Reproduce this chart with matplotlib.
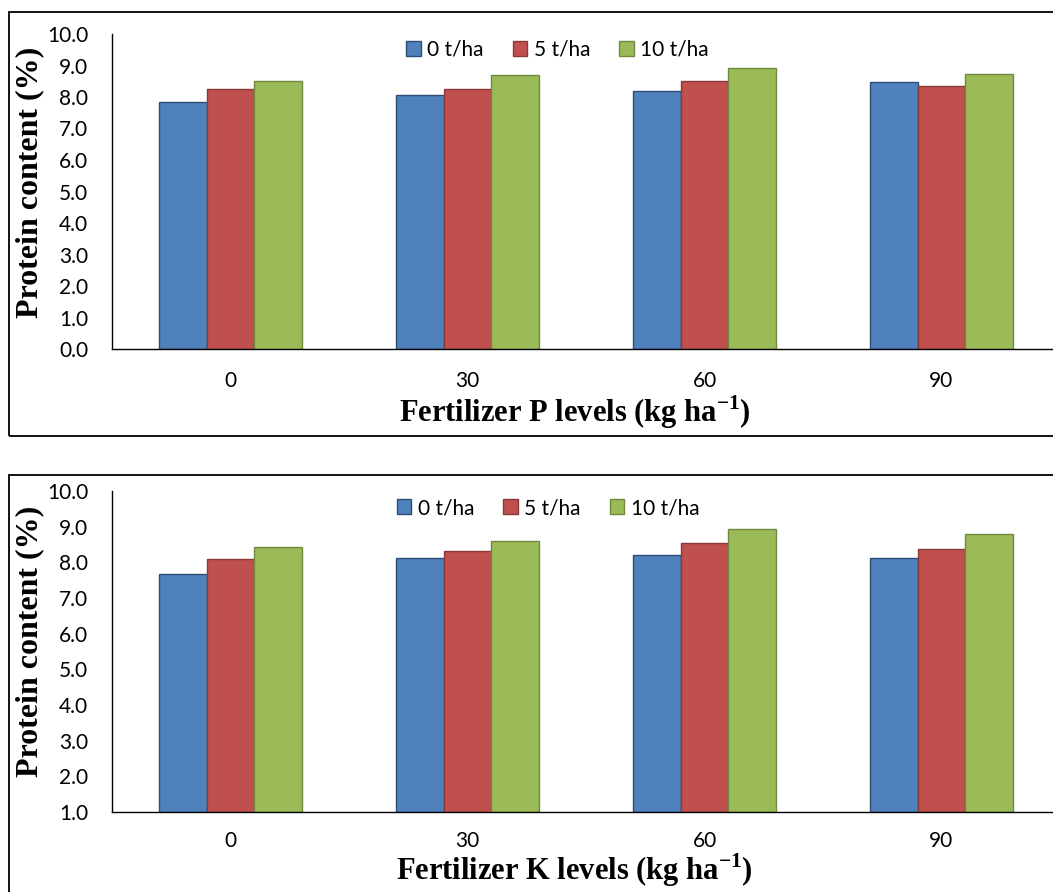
import matplotlib.pyplot as plt
import numpy as np
from matplotlib.patches import Rectangle

plt.rcParams['mathtext.fontset'] = 'custom'
plt.rcParams['mathtext.rm'] = 'Liberation Serif'
plt.rcParams['mathtext.bf'] = 'Liberation Serif:bold'

# data
levels = ['0', '30', '60', '90']
series = ['0 t/ha', '5 t/ha', '10 t/ha']
p_0t = [7.85, 8.06, 8.18, 8.49]
p_5t = [8.24, 8.24, 8.52, 8.36]
p_10t = [8.50, 8.70, 8.91, 8.74]
k_0t = [7.66, 8.13, 8.20, 8.13]
k_5t = [8.09, 8.31, 8.53, 8.38]
k_10t = [8.42, 8.61, 8.93, 8.79]

colors = ['#4F81BD', '#C0504D', '#9BBB59']
edges = ['#2C4D75', '#8C3836', '#71893F']

tick_font = ['Liberation Sans Narrow', 'Lato', 'DejaVu Sans']
label_font = ['Liberation Serif', 'DejaVu Serif']

W, H = 1053, 892
fig = plt.figure(figsize=(W / 100, H / 100), dpi=100)


def px(x0, y0, x1, y1):
    # pixel box (top-left origin) -> figure fraction rect
    return [x0 / W, 1 - y1 / H, (x1 - x0) / W, (y1 - y0) / H]


# panel frames
for y0, y1 in [(12, 436), (475, 900)]:
    fig.patches.append(Rectangle((9 / W, 1 - y1 / H), 1.1, (y1 - y0) / H,
                                 transform=fig.transFigure, fill=False,
                                 edgecolor='black', linewidth=1.3))


def panel(rect, data, ymin, xlabel, xlab_y, leg_xy, xpad):
    ax = fig.add_axes(rect)
    x = np.arange(len(levels))
    w = 0.2
    for i, vals in enumerate(data):
        ax.bar(x + (i - 1) * w, np.array(vals) - ymin, w, bottom=ymin,
               color=colors[i], edgecolor=edges[i], linewidth=1.0,
               label=series[i])
    ax.set_xlim(-0.5, 3.5)
    ax.set_ylim(ymin, 10)
    ax.set_yticks(np.arange(ymin, 10.01, 1.0))
    ax.set_yticklabels(['%.1f' % v for v in np.arange(ymin, 10.01, 1.0)],
                       family=tick_font, fontsize=15)
    ax.set_xticks(x)
    ax.set_xticklabels(levels, family=tick_font, fontsize=15)
    ax.tick_params(axis='y', length=0, pad=17)
    ax.tick_params(axis='x', length=0, pad=xpad)
    for s in ['top', 'right']:
        ax.spines[s].set_visible(False)
    ax.spines['left'].set_linewidth(1.0)
    ax.spines['bottom'].set_linewidth(1.0)
    ax.set_ylabel('Protein content (%)', family=label_font,
                  fontweight='bold', fontsize=23)
    ax.yaxis.set_label_coords(-0.071, 0.53)
    ax.set_xlabel(xlabel, family=label_font, fontweight='bold', fontsize=22)
    ax.xaxis.set_label_coords(0.488, xlab_y)
    ax.legend(loc='center', bbox_to_anchor=leg_xy, ncol=3, frameon=False,
              prop={'family': tick_font, 'size': 15},
              handlelength=0.7, handleheight=0.7, handletextpad=0.3,
              columnspacing=1.4)
    return ax


panel(px(112, 34, 1060, 349), [p_0t, p_5t, p_10t], 0.0,
      r'Fertilizer P levels (kg ha$^{\mathbf{-1}}$)', -0.140,
      (0.47, 0.95), 16)
panel(px(112, 491, 1060, 812), [k_0t, k_5t, k_10t], 1.0,
      r'Fertilizer K levels (kg ha$^{\mathbf{-1}}$)', -0.124,
      (0.46, 0.947), 14)

plt.savefig('out.png', dpi=100)
